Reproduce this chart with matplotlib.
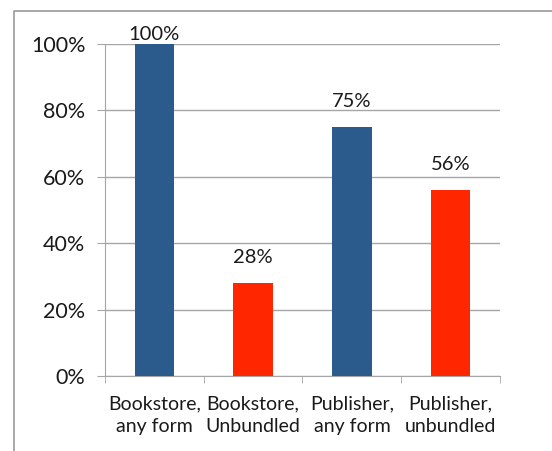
import matplotlib.pyplot as plt
from matplotlib.ticker import PercentFormatter
from matplotlib.lines import Line2D

categories = ['Bookstore,\nany form', 'Bookstore,\nUnbundled', 'Publisher,\nany form', 'Publisher,\nunbundled']
values = [1.00, 0.28, 0.75, 0.56]
colors = ['#2A5B8C', '#FF2600', '#2A5B8C', '#FF2600']

plt.rcParams['font.family'] = ['Lato', 'DejaVu Sans']

fig = plt.figure(figsize=(5.52, 4.51), dpi=100)
ax = fig.add_axes([0.190, 0.1663, 0.716, 0.736])

x = range(len(categories))
ax.bar(x, values, width=0.4, color=colors, zorder=3)

# data labels above bars
for i, v in enumerate(values):
    off = 1 if v >= 1 else 12
    ax.annotate(f'{v:.0%}', (i, v), xytext=(0, off), textcoords='offset points',
                ha='center', va='bottom', fontsize=14.5, color='#1A1A1A')

ax.set_ylim(0, 1)
ax.set_xlim(-0.5, 3.5)
ax.yaxis.set_major_formatter(PercentFormatter(1.0, decimals=0))
ax.set_yticks([0, 0.2, 0.4, 0.6, 0.8, 1.0])
ax.grid(True, axis='y', color='#A6A6A6', linewidth=1, zorder=0)

ax.set_xticks([0, 1, 2, 3])
ax.set_xticklabels(categories, fontsize=14, color='#1A1A1A', linespacing=1.4)
ax.set_xticks([-0.5, 0.5, 1.5, 2.5, 3.5], minor=True)
ax.tick_params(axis='x', which='major', length=0, pad=14)
ax.tick_params(axis='x', which='minor', length=5, color='#A6A6A6')
ax.tick_params(axis='y', length=6, color='#A6A6A6', labelsize=15.5, labelcolor='#1A1A1A', pad=8)

for s in ['top', 'right']:
    ax.spines[s].set_visible(False)
for s in ['left', 'bottom']:
    ax.spines[s].set_color('#A6A6A6')

# outer chart frame (top and left edges)
fig.add_artist(Line2D([14 / 552, 14 / 552, 1], [0, 1 - 11 / 451, 1 - 11 / 451],
                      transform=fig.transFigure, color='#9A9A9A', linewidth=1.2))

fig.savefig('out.png', dpi=100)
